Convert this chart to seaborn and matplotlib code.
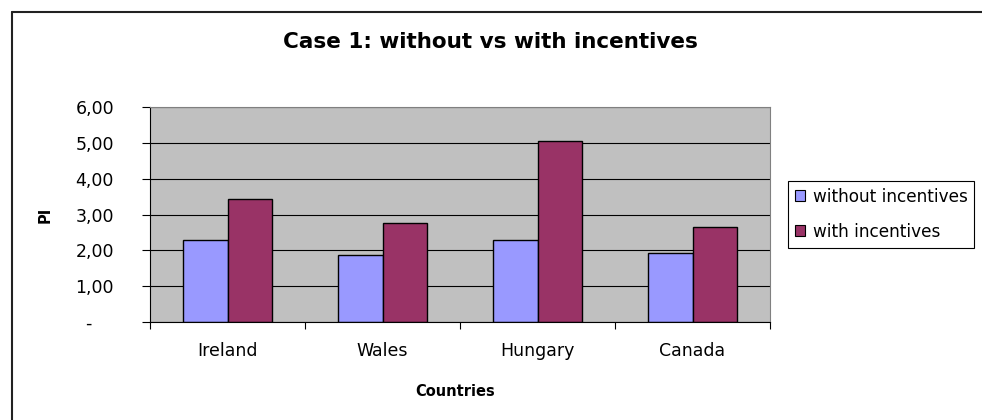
import pandas as pd
import matplotlib
matplotlib.use("Agg")
from matplotlib import pyplot as plt
import matplotlib.patches as mpatches
from matplotlib.lines import Line2D
from matplotlib.ticker import FixedLocator, FixedFormatter
import seaborn as sns

countries = ["Ireland", "Wales", "Hungary", "Canada"]
without_incentives = [2.28, 1.87, 2.28, 1.92]
with_incentives = [3.44, 2.77, 5.04, 2.64]
series = ["without incentives", "with incentives"]
colors = ["#9999FF", "#993366"]
y_ticks = [0, 1, 2, 3, 4, 5, 6]
y_tick_labels = ["-    ", "1,00", "2,00", "3,00", "4,00", "5,00", "6,00"]


def main():
    data = pd.DataFrame({
        "Countries": countries * 2,
        "PI": without_incentives + with_incentives,
        "Series": [series[0]] * 4 + [series[1]] * 4,
    })

    sns.set_style("white")
    plt.rcParams["font.family"] = ["DejaVu Sans"]
    plt.rcParams["text.color"] = "black"
    plt.rcParams["xtick.color"] = "black"
    plt.rcParams["ytick.color"] = "black"
    plt.rcParams["xtick.labelcolor"] = "black"
    plt.rcParams["ytick.labelcolor"] = "black"

    W, H = 982, 420
    fig = plt.figure(figsize=(W / 100, H / 100), dpi=100)
    ax = fig.add_axes([150 / W, 1 - 322.3 / H, 620 / W, (322.3 - 106.7) / H])

    sns.barplot(data=data, x="Countries", y="PI", hue="Series",
                palette=colors, width=0.574, gap=0, saturation=1,
                edgecolor="black", linewidth=1.0, legend=False, ax=ax)

    ax.set_facecolor("#C0C0C0")
    ax.set_xlim(-0.5, 3.5)
    ax.set_ylim(0, 6)
    ax.set_xlabel("")
    ax.set_ylabel("")

    ax.yaxis.set_major_locator(FixedLocator(y_ticks))
    ax.yaxis.set_major_formatter(FixedFormatter(y_tick_labels))
    ax.grid(axis="y", color="black", linewidth=0.8)
    ax.set_axisbelow(True)
    ax.tick_params(axis="y", which="major", length=6, width=0.8, color="black",
                   labelcolor="black", direction="out", pad=20, labelsize=12.5,
                   left=True)

    ax.xaxis.set_minor_locator(FixedLocator([-0.5, 0.5, 1.5, 2.5, 3.5]))
    ax.tick_params(axis="x", which="major", length=0, pad=14, labelsize=12.5,
                   labelcolor="black")
    ax.tick_params(axis="x", which="minor", length=5, width=0.8, color="black",
                   direction="out", bottom=True)

    for side in ["left", "bottom"]:
        ax.spines[side].set_color("black")
        ax.spines[side].set_linewidth(0.8)
    for side in ["top", "right"]:
        ax.spines[side].set_color("#808080")
        ax.spines[side].set_linewidth(0.8)

    fig.text(490 / W, 1 - 42 / H, "Case 1: without vs with incentives",
             ha="center", va="center", fontsize=15.5, fontweight="bold",
             color="black")
    fig.text(45 / W, 1 - 215 / H, "PI", rotation=90, ha="center", va="center",
             fontsize=10.5, fontweight="bold", color="black")
    fig.text(455 / W, 1 - 391 / H, "Countries", ha="center", va="center",
             fontsize=10.5, fontweight="bold", color="black")

    handles = [mpatches.Patch(facecolor=c, edgecolor="black", linewidth=0.8)
               for c in colors]
    leg = fig.legend(handles, series, loc="upper left",
                     bbox_to_anchor=(788 / W, 1 - 181 / H), borderaxespad=0,
                     fontsize=12.2, frameon=True, fancybox=False,
                     edgecolor="black", framealpha=1, handlelength=0.6,
                     handleheight=0.6, handletextpad=0.45, borderpad=0.4,
                     labelspacing=1.0)
    leg.get_frame().set_linewidth(0.8)
    for t in leg.get_texts():
        t.set_color("black")

    # chart border (only left and top edges visible)
    fig.add_artist(Line2D([12 / W, 12 / W], [0, 1 - 12 / H], color="#222222",
                          linewidth=1.5, transform=fig.transFigure))
    fig.add_artist(Line2D([12 / W, 1], [1 - 12 / H, 1 - 12 / H], color="#222222",
                          linewidth=1.5, transform=fig.transFigure))

    fig.savefig("out.png", dpi=100)


if __name__ == '__main__':
    main()
